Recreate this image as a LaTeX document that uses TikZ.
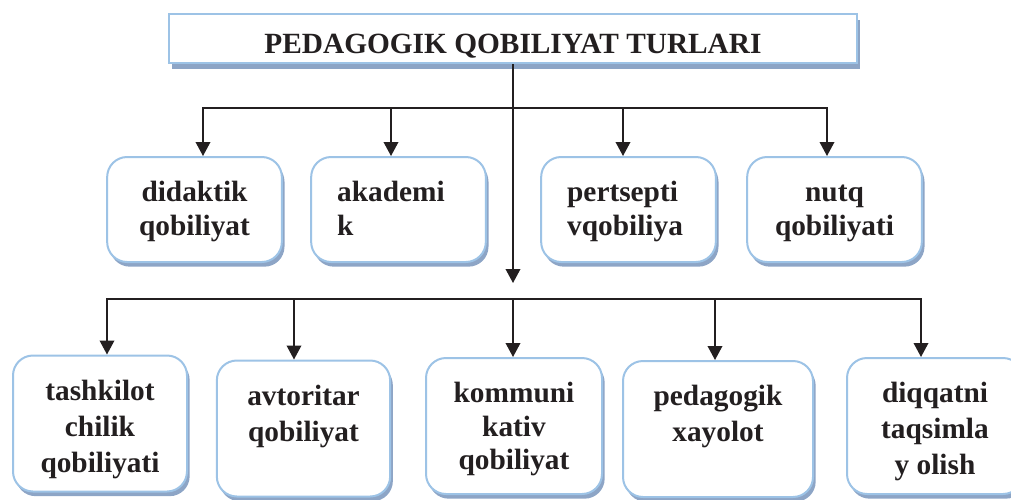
\documentclass[tikz,border=0pt]{standalone}
\usepackage{fontspec}
\setmainfont{Liberation Serif}
\usetikzlibrary{arrows.meta,shadows}

\definecolor{boxblue}{HTML}{9DC3E6}
\definecolor{shadeblue}{HTML}{8DA5C6}
\definecolor{ink}{HTML}{231F20}

% width, height, line skip, text
\newcommand{\celltext}[4]{\parbox[c][#2][t]{#1}{\centering\fontsize{22}{#3}\selectfont\rule{0pt}{33.5pt}#4}}

\tikzset{
  headbox/.style={draw=boxblue, line width=1.5pt, fill=white, text=ink,
    minimum width=516pt, minimum height=36.75pt,
    text height=21.75pt, text depth=0pt,
    font=\fontsize{22}{26}\selectfont\bfseries,
    drop shadow={shadow xshift=2pt, shadow yshift=-4.5pt, fill=shadeblue, opacity=1}},
  card/.style={draw=boxblue, line width=1.5pt, fill=white, text=ink,
    rounded corners=15pt, inner sep=0pt, font=\bfseries,
    drop shadow={shadow xshift=2pt, shadow yshift=-3.5pt, fill=shadeblue, opacity=1}},
  link/.style={ink, line width=1.1pt},
  arr/.style={link, -{Triangle[width=11pt,length=10.5pt]}}
}

\begin{document}
\begin{tikzpicture}[x=0.75pt,y=-0.75pt]
\useasboundingbox (0,0) rectangle (1011,500);

\node[headbox] (title) at (513,38.5) {PEDAGOGIK QOBILIYAT TURLARI};

% upper row
\def\uprow{1/194.5/{didaktik\\qobiliyat},
  2/398.5/{\raggedright\leftskip=19.5pt akademi\\k},
  3/628.5/{\raggedright\leftskip=19.5pt pertsepti\\vqobiliya},
  4/834.5/{nutq\\qobiliyati}}
\foreach \i/\x/\txt in \uprow
  \node[card] (u\i) at (\x,209.5) {\celltext{131pt}{78.75pt}{25.5pt}{\txt}};

% lower row
\def\lowrow{1/100/423.5/130.5/27pt/{tashkilot\\chilik\\qobiliyati},
  2/303.5/428.5/130/27pt/{avtoritar\\qobiliyat},
  3/514/426/132/25pt/{kommuni\\kativ\\qobiliyat},
  4/718/429/142.5/27pt/{pedagogik\\xayolot},
  5/935/426/132/27pt/{diqqatni\\taqsimla\\y olish}}
\foreach \i/\x/\y/\w/\s/\txt in \lowrow
  \node[card] (l\i) at (\x,\y) {\celltext{\w pt}{102pt}{\s}{\txt}};

% connectors
\coordinate (hub) at (513,283);
\foreach \i/\x in {1/203,2/391,3/623,4/827}
  \coordinate (ut\i) at (\x,108);
\foreach \i/\x in {1/107,2/294,3/513,4/715,5/921}
  \coordinate (lt\i) at (\x,299);

\draw[arr] (title) -- (hub);
\draw[link, line cap=rect] (ut1) -- (ut4);
\foreach \i in {1,...,4}
  \draw[arr] (ut\i) -- (ut\i |- u\i.north);
\draw[link, line cap=rect] (lt1) -- (lt5);
\foreach \i in {1,...,5}
  \draw[arr] (lt\i) -- (lt\i |- l\i.north);

\end{tikzpicture}
\end{document}
